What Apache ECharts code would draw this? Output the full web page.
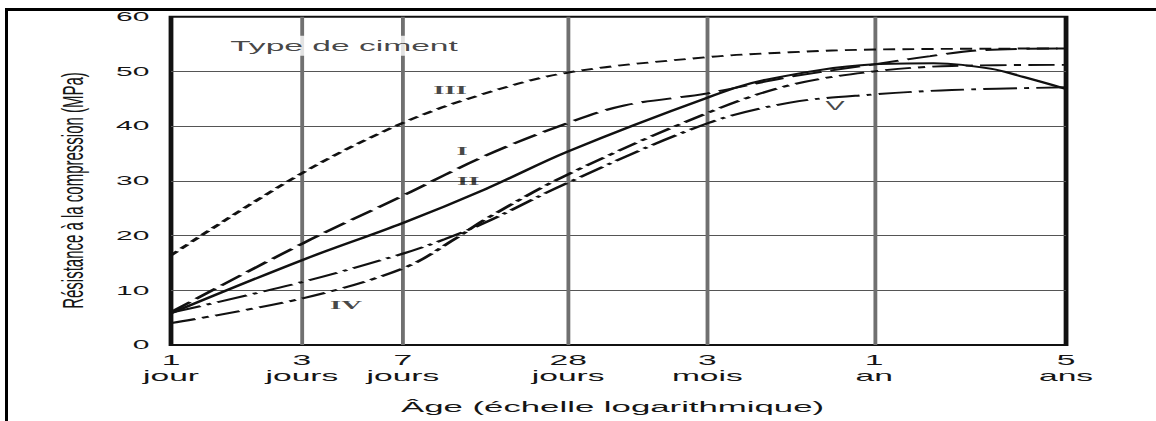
<!DOCTYPE html>
<html>
<head>
<meta charset="utf-8">
<title>Résistance à la compression selon le type de ciment</title>
<script src="https://cdn.jsdelivr.net/npm/echarts@6/dist/echarts.min.js"></script>
<style>
  html, body { margin: 0; padding: 0; background: #fff; width: 1156px; height: 421px; overflow: hidden; }
  #frame { position: absolute; left: 5px; top: 8px; right: 0; bottom: 0;
           border-top: 3px solid #000; border-left: 3px solid #000; }
  /* the figure is laid out narrow and stretched horizontally */
  #chart { position: absolute; left: 0; top: 0; width: 482px; height: 421px;
           transform: scaleX(2.3983); transform-origin: 0 0; }
</style>
</head>
<body>
<div id="frame"></div>
<div id="chart"></div>
<script>
// Age ticks (days) on the logarithmic axis and their labels
const tickDays = [1, 3, 7, 28, 90, 365, 1825];
const tickLabels = ['1\njour', '3\njours', '7\njours', '28\njours', '3\nmois', '1\nan', '5\nans'];

// Compressive strength (MPa) versus age (days), one list per cement type
const typeI = [[1, 6.0], [3, 18.5], [7, 27.3], [14, 34.6], [28, 40.6], [45, 43.8], [90, 46.0],
               [180, 49.0], [365, 51.3], [585, 52.8], [910, 53.9], [1825, 54.2]];
const typeII = [[1, 5.8], [3, 15.5], [7, 22.3], [14, 28.5], [28, 35.4], [90, 45.2],
                [148, 48.5], [365, 51.3], [600, 51.5], [966, 50.5], [1274, 49.0], [1825, 46.8]];
const typeIII = [[1, 16.4], [3, 31.4], [7, 40.6], [14, 46.0], [28, 49.8], [90, 52.6],
                 [180, 53.5], [365, 54.0], [1825, 54.2]];
const typeIV = [[1, 4.0], [3, 8.5], [7, 14.0], [11, 19.6], [14, 23.0], [28, 31.2], [90, 42.4],
                [180, 47.5], [365, 50.0], [700, 51.0], [1825, 51.2]];
const typeV = [[1, 5.9], [3, 11.5], [7, 16.7], [10, 19.4], [14, 22.4], [28, 29.7], [90, 40.5],
               [180, 44.3], [365, 45.8], [700, 46.6], [1825, 47.1]];

// In-plot captions: text, age (days), strength (MPa)
const captions = [
  ['Type de ciment', 4.27, 54.7],
  ['III', 10.4, 46.6],
  ['I', 11.5, 35.4],
  ['II', 12.1, 30.0],
  ['IV', 4.34, 7.3],
  ['V', 263, 43.7]
];

const ink = '#111';
const textInk = '#151515';
const sans = 'Liberation Sans, Arial, Helvetica, sans-serif';
const serif = 'Liberation Serif, Times New Roman, serif';

function curve(name, data, dash, width) {
  return {
    name: name,
    type: 'line',
    data: data,
    symbol: 'none',
    smooth: 0.35,
    z: 3,
    lineStyle: { color: ink, width: width || 1.9, type: dash, cap: 'butt' }
  };
}

function labelFor(days) {
  let best = 0;
  tickDays.forEach((d, i) => {
    if (Math.abs(Math.log(d) - Math.log(days)) < Math.abs(Math.log(tickDays[best]) - Math.log(days))) best = i;
  });
  return tickLabels[best];
}

const chart = echarts.init(document.getElementById('chart'), null, { renderer: 'svg' });

chart.setOption({
  animation: false,
  backgroundColor: 'transparent',
  grid: {
    left: 71.3, right: 37.5, top: 16.7, bottom: 76,
    show: true, borderColor: ink, borderWidth: 2, backgroundColor: 'transparent'
  },
  xAxis: {
    type: 'log',
    logBase: 10,
    min: 1,
    max: 1825,
    name: 'Âge (échelle logarithmique)',
    nameLocation: 'middle',
    nameGap: 55,
    nameTextStyle: { fontFamily: sans, fontSize: 14.5, color: textInk, padding: [0, 5, 0, 0] },
    axisLine: { show: false },
    axisTick: { show: false, customValues: tickDays },
    axisLabel: {
      customValues: tickDays,
      formatter: v => labelFor(v),
      fontFamily: sans, fontSize: 14, lineHeight: 16, color: textInk, margin: 7
    },
    splitLine: {
      show: true, showMinLine: false, showMaxLine: false,
      lineStyle: { color: '#707070', width: 1.6 }
    }
  },
  yAxis: {
    type: 'value',
    min: 0,
    max: 60,
    interval: 10,
    axisLine: { show: false },
    axisTick: { show: false },
    axisLabel: { fontFamily: sans, fontSize: 12.5, color: textInk, margin: 9 },
    splitLine: {
      show: true, showMinLine: false, showMaxLine: false,
      lineStyle: { color: '#555', width: 1.1 }
    }
  },
  graphic: [{
    type: 'text',
    x: 30.4,
    y: 190.5,
    rotation: Math.PI / 2,
    scaleY: 0.8,
    style: {
      text: 'Résistance à la compression (MPa)',
      fontFamily: sans, fontSize: 15, fill: textInk,
      align: 'center', verticalAlign: 'middle'
    }
  }],
  series: [
    curve('III', typeIII, [5, 3]),
    curve('I', typeI, [13, 4]),
    curve('II', typeII, 'solid', 1.9),
    curve('IV', typeIV, [11, 3, 3, 3]),
    curve('V', typeV, [14, 3, 2, 3]),
    {
      name: 'légendes',
      type: 'scatter',
      z: 5,
      symbolSize: 1,
      itemStyle: { color: 'rgba(0,0,0,0)' },
      silent: true,
      data: captions.map(([text, d, v], i) => ({
        value: [d, v],
        label: {
          show: true,
          position: 'inside',
          formatter: text,
          color: textInk,
          fontFamily: i === 0 || text === 'V' ? sans : serif,
          fontWeight: i === 0 || text === 'V' ? 'normal' : 'bold',
          fontSize: i === 0 ? 14 : 12,
          backgroundColor: i === 0 ? '#fff' : 'transparent',
          padding: i === 0 ? [3, 2] : 0
        }
      }))
    }
  ]
});
</script>
</body>
</html>
